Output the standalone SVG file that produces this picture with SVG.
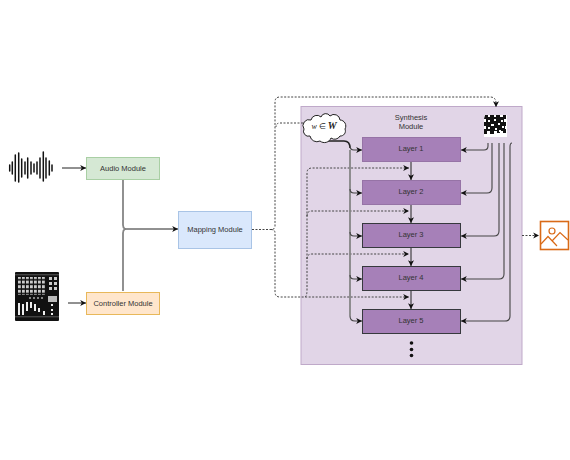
<svg xmlns="http://www.w3.org/2000/svg" width="570" height="460" viewBox="0 0 570 460">
<style>
text{font-family:"Liberation Sans",Arial,sans-serif;font-size:7.500px;fill:#333;text-anchor:middle}
.layer{fill:#a680b8;stroke:#9673a6;stroke-width:1}
.dark{stroke:#36393d}
.c{fill:none;stroke:#222;stroke-width:1}
.g{fill:none;stroke:#444;stroke-width:1.100}
.t{fill:none;stroke:#858585;stroke-width:1.800}
.d{fill:none;stroke:#444;stroke-width:1;stroke-dasharray:2 1.500}
.w{fill:#eee}
</style>
<defs>
<marker id="a" markerUnits="userSpaceOnUse" markerWidth="7" markerHeight="7" refX="6" refY="3.500" orient="auto"><path d="M0.200 0.500L6 3.500L0.200 6.500L1.800 3.500Z" fill="#111"/></marker>
<pattern id="keys" width="4" height="4.600" patternUnits="userSpaceOnUse" x="18" y="276"><rect width="2.800" height="3" fill="#ccc"/></pattern>
</defs>
<g id="synthesis"><rect x="301" y="106.500" width="221" height="258" fill="#e1d5e7" stroke="#bfa9c9"/><text x="411" y="120">Synthesis</text><text x="411" y="128.500">Module</text></g>
<g id="connectors">
<path class="c" d="M62 168H86" marker-end="url(#a)"/>
<path class="c" d="M68 303H86" marker-end="url(#a)"/>
<path class="t" d="M123 179V225Q123 228 125 229"/>
<path class="t" d="M123 291V233Q123 230 125 229"/>
<path class="c" d="M125 229H178" marker-end="url(#a)"/>
<path class="d" d="M252 229.500H271Q275 229.500 275 226V102Q275 97 280 97H490Q496 97 496 103V107" marker-end="url(#a)"/>
<path class="d" d="M271 229.500Q275 229.500 275 233V292Q275 297 280 297H409" marker-end="url(#a)"/>
<path class="d" d="M303 123H280Q276 123 276 127"/>
<path class="d" d="M305 297Q307 296 307 290V173Q307 168 312 168H409" marker-end="url(#a)"/>
<path class="d" d="M307 216Q307 211 312 211H409" marker-end="url(#a)"/>
<path class="d" d="M307 259Q307 254 312 254H409" marker-end="url(#a)"/>
<path class="t" d="M350 150V316"/>
<path d="M327 141H344Q350 141 350 148" fill="none" stroke="#222" stroke-width="1.600"/>
<path class="g" d="M350 146Q350 150 354 150H362" marker-end="url(#a)"/>
<path class="g" d="M350 189Q350 193 354 193H362" marker-end="url(#a)"/>
<path class="g" d="M350 232Q350 236 354 236H362" marker-end="url(#a)"/>
<path class="g" d="M350 275Q350 279 354 279H362" marker-end="url(#a)"/>
<path class="g" d="M350 316Q350 321 355 321H362" marker-end="url(#a)"/>
<path class="c" d="M411 162V180" marker-end="url(#a)"/>
<path class="c" d="M411 205V223" marker-end="url(#a)"/>
<path class="c" d="M411 248V266" marker-end="url(#a)"/>
<path class="c" d="M411 291V309" marker-end="url(#a)"/>
<path class="g" d="M488 143V146Q488 150 484 150H461" marker-end="url(#a)"/>
<path class="g" d="M492 143V188Q492 193 487 193H461" marker-end="url(#a)"/>
<path class="g" d="M499 143V231Q499 236 494 236H461" marker-end="url(#a)"/>
<path class="g" d="M504 143V274Q504 279 499 279H461" marker-end="url(#a)"/>
<path class="g" d="M512 143Q510 143 510 147V316Q510 321 505 321H461" marker-end="url(#a)"/>
<path class="d" d="M522 235.500H539" marker-end="url(#a)"/>
</g>
<g id="audio-wave" stroke="#111" stroke-width="1.500" stroke-linecap="round">
<path d="M9.700 165V171M12.300 162V174M15.300 155V181M18.700 153V182M21.700 159V177M25 162V174M27.700 158V178M31 162V174M34 164V172M37 162V174M40 158V178M43.300 152V181M46 158V178M49.300 161V175M52 165V171"/>
</g>
<g id="mixer">
<rect x="15" y="272" width="44" height="49" rx="1" fill="#111"/>
<rect x="15" y="274.500" width="44" height=".7" fill="#777"/>
<rect x="15" y="316.500" width="44" height=".7" fill="#777"/>
<rect x="18" y="277" width="28" height="18" fill="url(#keys)"/>
<rect x="49" y="277" width="3" height="3" fill="#ccc"/><rect x="54" y="277" width="3" height="3" fill="#ccc"/>
<rect x="49" y="282" width="3" height="3" fill="#ccc"/><rect x="54" y="282" width="3" height="3" fill="#ccc"/>
<rect x="49" y="287" width="3" height="3" fill="#ccc"/><rect x="54" y="287" width="3" height="3" fill="#ccc"/>
<rect x="48" y="296" width="9" height="6" fill="#bbb"/>
<path d="M29 298H45" stroke="#aaa" stroke-width="1.500" stroke-dasharray="2 2"/>
<g class="w">
<rect x="18" y="303" width="2" height="12"/><rect x="22" y="304" width="2" height="11"/><rect x="26" y="302" width="2" height="9"/><rect x="30" y="302" width="2" height="6"/><rect x="34" y="304" width="2" height="7"/><rect x="38" y="308" width="2" height="4"/><rect x="43" y="311" width="2" height="4"/><rect x="51" y="304" width="2" height="2"/><rect x="51" y="309" width="2" height="2"/><rect x="51" y="313" width="2" height="2"/>
</g>
</g>
<g id="audio-module"><rect x="86.500" y="157.500" width="73" height="22" fill="#d5e8d4" stroke="#a9cfa4"/><text x="123" y="170.500">Audio Module</text></g>
<g id="controller-module"><rect x="86.500" y="292.500" width="73" height="22" fill="#ffe6cc" stroke="#e8b85a"/><text x="123" y="305.500">Controller Module</text></g>
<g id="mapping-module"><rect x="178.500" y="211.500" width="73" height="37" fill="#dae8fc" stroke="#a9c4e6"/><text x="215" y="231.500">Mapping Module</text></g>
<g id="layer-1"><rect class="layer" x="362.500" y="137.500" width="98" height="24"/><text x="411" y="151">Layer 1</text></g>
<g id="layer-2"><rect class="layer" x="362.500" y="180.500" width="98" height="24"/><text x="411" y="194">Layer 2</text></g>
<g id="layer-3"><rect class="layer dark" x="362.500" y="223.500" width="98" height="24"/><text x="411" y="237">Layer 3</text></g>
<g id="layer-4"><rect class="layer dark" x="362.500" y="266.500" width="98" height="24"/><text x="411" y="280">Layer 4</text></g>
<g id="layer-5"><rect class="layer dark" x="362.500" y="309.500" width="98" height="24"/><text x="411" y="323">Layer 5</text></g>
<g id="dots" fill="#111"><circle cx="411.500" cy="343" r="1.800"/><circle cx="411.500" cy="349.500" r="1.800"/><circle cx="411.500" cy="355.500" r="1.800"/></g>
<g id="cloud"><path d="M311 120A6 6 0 0 1 321 117A5 5 0 0 1 330 116A6 6 0 0 1 340 120A6 6 0 0 1 345 129A5 5 0 0 1 340 136A6 6 0 0 1 331 138A7 7 0 0 1 320 141A7 7 0 0 1 310 136A5 5 0 0 1 304 129A6 6 0 0 1 311 120Z" fill="#fff" stroke="#222" stroke-width="1"/><text x="324" y="129" style="font-family:'Liberation Serif',serif;font-size:8px;fill:#222"><tspan font-style="italic">w</tspan> ∈ <tspan font-style="italic" font-weight="bold" font-size="10">W</tspan></text></g>
<g id="noise">
<rect x="484" y="115" width="23" height="22" fill="#fff"/>
<path d="M485 115h3v2h2v-2h4v2h2v-2h4v2h3v-2h3v4h-2v3h2v4h-1v3h1v4h-3v-2h-3v2h-3v-2h-3v3h-4v-3h-3v3h-3v-5h2v-3h-2v-4h2v-3h-2z" fill="#111"/>
<g fill="#fff">
<rect x="488" y="120" width="2" height="2"/><rect x="494" y="119" width="2" height="2"/><rect x="501" y="120" width="2" height="2"/>
<rect x="491" y="124" width="3" height="2"/><rect x="498" y="123" width="2" height="2"/><rect x="488" y="127" width="2" height="2"/><rect x="495" y="128" width="2" height="2"/><rect x="502" y="126" width="2" height="2"/><rect x="499" y="130" width="2" height="2"/>
</g>
</g>
<g id="output-image" fill="none" stroke="#d96a17" stroke-width="1.200">
<rect x="540.500" y="221.500" width="28" height="28" stroke-width="1.600"/>
<circle cx="552" cy="231" r="3"/>
<path d="M541 244L548 236.500L557 246"/><path d="M552 241L560 232.500L568 240"/>
</g>
</svg>
